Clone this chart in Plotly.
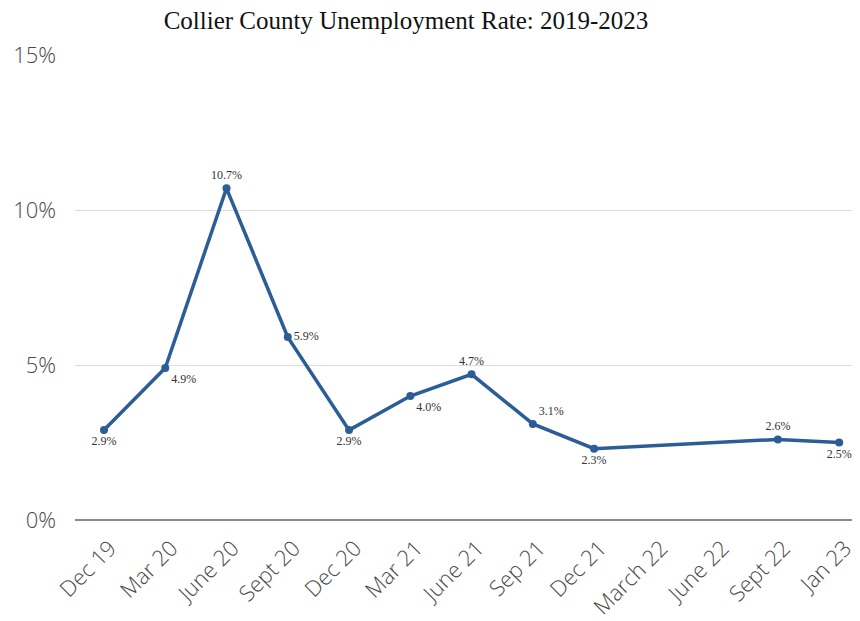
import plotly.graph_objects as go

categories = ["Dec 19", "Mar 20", "June 20", "Sept 20", "Dec 20", "Mar 21", "June 21",
              "Sep 21", "Dec 21", "March 22", "June 22", "Sept 22", "Jan 23"]
rates = [2.9, 4.9, 10.7, 5.9, 2.9, 4.0, 4.7, 3.1, 2.3, None, None, 2.6, 2.5]
label_pos = ["bottom center", "bottom right", "top center", "middle right", "bottom center",
             "bottom right", "top center", "top right", "bottom center", "top center",
             "top center", "top center", "bottom center"]
y_ticks = [0, 5, 10, 15]
y_tick_text = ["0%", "5%", "10%", "15%"]

labels = ["" if v is None else f"{v:.1f}%" for v in rates]

fig = go.Figure()
fig.add_trace(go.Scatter(
    x=categories, y=rates, mode="lines+markers+text",
    connectgaps=True, cliponaxis=False,
    line=dict(color="#2b5d96", width=3.5),
    marker=dict(color="#2b5d96", size=8),
    text=labels, textposition=label_pos,
    textfont=dict(family="Liberation Serif", size=12, color="#333333"),
    hoverinfo="skip", showlegend=False,
))

fig.update_layout(
    width=852, height=613,
    paper_bgcolor="white", plot_bgcolor="white",
    margin=dict(l=67, r=0, t=47, b=101),
    title=dict(text="Collier County Unemployment Rate: 2019-2023",
               x=398 / 852, xanchor="center", y=1 - 12 / 613, yanchor="middle",
               font=dict(family="Liberation Serif", size=25, color="#111111")),
)
fig.update_xaxes(
    type="category", range=[-0.473, 12.34],
    tickangle=-45, showgrid=False, showline=False, ticks="",
    ticklabelstandoff=10, ticklabelshift=6,
    tickfont=dict(family="Open Sans", size=22, color="#4a4a4a", weight=300),
)
fig.update_yaxes(
    range=[0, 15], tickvals=y_ticks, ticktext=y_tick_text,
    showgrid=True, gridcolor="#dcdcdc", gridwidth=1,
    zeroline=True, zerolinecolor="#8a8a8a", zerolinewidth=1.5,
    ticklabelstandoff=18,
    tickfont=dict(family="Open Sans", size=22, color="#4a4a4a", weight=300),
)

fig.write_html("out.html")
